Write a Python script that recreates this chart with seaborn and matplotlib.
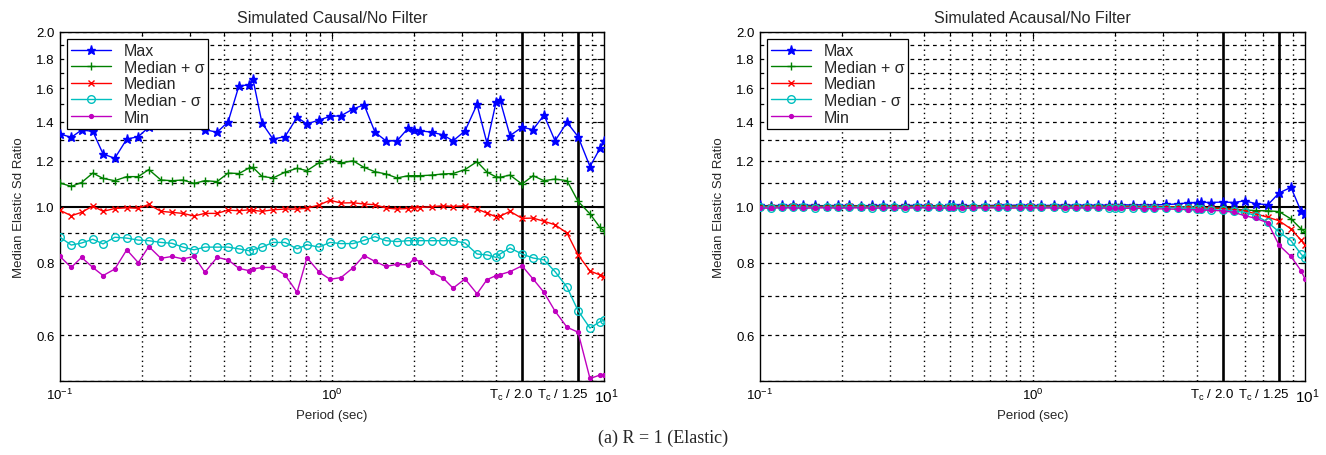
import numpy as np
import pandas as pd
import matplotlib
matplotlib.use("Agg")
import matplotlib.pyplot as plt
import matplotlib.ticker as mticker
from matplotlib.transforms import ScaledTranslation
import seaborn as sns

# Periods (sec) shared by all curves
periods = [0.100, 0.110, 0.120, 0.132, 0.144, 0.159, 0.176, 0.194, 0.212, 0.235,
           0.258, 0.283, 0.311, 0.341, 0.378, 0.415, 0.455, 0.495, 0.512, 0.553,
           0.607, 0.672, 0.744, 0.809, 0.896, 0.983, 1.079, 1.195, 1.312, 1.439,
           1.579, 1.734, 1.903, 2.002, 2.106, 2.332, 2.559, 2.786, 3.083, 3.413,
           3.715, 4.009, 4.147, 4.512, 4.995, 5.483, 6.017, 6.606, 7.311, 8.027,
           8.881, 9.667, 10.0]

# Simulated causal / no filter
causal_max = [1.334, 1.316, 1.355, 1.348, 1.232, 1.211, 1.307, 1.320, 1.370, 1.400,
              1.440, 1.450, 1.420, 1.357, 1.343, 1.400, 1.616, 1.620, 1.660, 1.393,
              1.307, 1.320, 1.425, 1.388, 1.410, 1.430, 1.434, 1.473, 1.498, 1.343,
              1.298, 1.298, 1.364, 1.357, 1.351, 1.343, 1.329, 1.298, 1.350, 1.500,
              1.285, 1.513, 1.526, 1.325, 1.370, 1.357, 1.438, 1.298, 1.397, 1.320,
              1.172, 1.260, 1.298]
causal_plus = [1.098, 1.083, 1.100, 1.142, 1.118, 1.108, 1.126, 1.126, 1.158, 1.111,
               1.108, 1.111, 1.096, 1.108, 1.104, 1.142, 1.140, 1.165, 1.168, 1.127,
               1.120, 1.146, 1.164, 1.153, 1.190, 1.208, 1.189, 1.199, 1.168, 1.148,
               1.138, 1.120, 1.130, 1.130, 1.130, 1.133, 1.138, 1.140, 1.158, 1.195,
               1.146, 1.125, 1.123, 1.133, 1.093, 1.130, 1.108, 1.115, 1.108, 1.021,
               0.971, 0.920, 0.908]
causal_med = [0.985, 0.964, 0.977, 1.002, 0.981, 0.992, 0.995, 0.993, 1.008, 0.981,
              0.977, 0.973, 0.963, 0.973, 0.973, 0.986, 0.983, 0.987, 0.985, 0.981,
              0.987, 0.990, 0.990, 0.993, 1.006, 1.025, 1.014, 1.015, 1.010, 1.007,
              0.994, 0.990, 0.992, 0.994, 0.996, 0.999, 1.003, 1.000, 1.003, 0.990,
              0.974, 0.960, 0.962, 0.981, 0.954, 0.955, 0.943, 0.930, 0.900, 0.825,
              0.774, 0.762, 0.757]
causal_minus = [0.885, 0.858, 0.865, 0.878, 0.862, 0.885, 0.882, 0.875, 0.873, 0.867,
                0.864, 0.851, 0.842, 0.851, 0.851, 0.851, 0.845, 0.839, 0.842, 0.851,
                0.867, 0.867, 0.845, 0.859, 0.851, 0.867, 0.863, 0.863, 0.874, 0.887,
                0.873, 0.870, 0.873, 0.873, 0.873, 0.873, 0.873, 0.873, 0.865, 0.828,
                0.825, 0.817, 0.828, 0.848, 0.828, 0.815, 0.809, 0.772, 0.726, 0.661,
                0.617, 0.633, 0.636]
causal_min = [0.820, 0.785, 0.817, 0.785, 0.760, 0.780, 0.842, 0.800, 0.853, 0.814,
              0.820, 0.812, 0.820, 0.770, 0.817, 0.809, 0.782, 0.775, 0.780, 0.785,
              0.785, 0.762, 0.711, 0.816, 0.771, 0.749, 0.754, 0.784, 0.823, 0.804,
              0.788, 0.795, 0.793, 0.812, 0.803, 0.770, 0.753, 0.723, 0.750, 0.707,
              0.748, 0.760, 0.763, 0.772, 0.790, 0.750, 0.711, 0.660, 0.619, 0.607,
              0.505, 0.512, 0.513]

# Simulated acausal / no filter
acausal_max = [1.004, 1.003, 1.005, 1.004, 1.006, 1.004, 1.003, 1.005, 1.004, 1.003,
               1.004, 1.005, 1.003, 1.004, 1.005, 1.004, 1.003, 1.004, 1.004, 1.005,
               1.003, 1.004, 1.005, 1.004, 1.006, 1.005, 1.004, 1.005, 1.006, 1.005,
               1.006, 1.005, 1.006, 1.006, 1.007, 1.006, 1.007, 1.006, 1.008, 1.010,
               1.015, 1.016, 1.017, 1.016, 1.018, 1.016, 1.023, 1.011, 1.007, 1.055,
               1.079, 0.982, 0.972]
acausal_plus = [1.002, 1.001, 1.002, 1.003, 1.002, 1.001, 1.002, 1.002, 1.003, 1.002,
                1.001, 1.002, 1.002, 1.001, 1.002, 1.003, 1.002, 1.002, 1.002, 1.001,
                1.002, 1.002, 1.003, 1.002, 1.002, 1.003, 1.002, 1.002, 1.001, 1.002,
                1.002, 1.002, 1.001, 1.001, 1.001, 1.001, 1.000, 1.000, 0.999, 0.999,
                0.998, 0.997, 0.996, 0.995, 0.993, 0.990, 0.986, 0.984, 0.983, 0.980,
                0.952, 0.915, 0.904]
acausal_med = [1.000, 0.999, 1.000, 1.001, 1.000, 0.999, 1.000, 1.000, 1.001, 1.000,
               0.999, 1.000, 1.000, 0.999, 1.000, 1.001, 1.000, 1.000, 1.000, 0.999,
               1.000, 1.000, 1.001, 1.000, 1.000, 1.001, 1.000, 1.000, 0.999, 1.000,
               1.000, 1.000, 0.999, 0.999, 0.999, 0.999, 0.999, 0.998, 0.998, 0.998,
               0.997, 0.996, 0.995, 0.994, 0.992, 0.988, 0.983, 0.971, 0.958, 0.945,
               0.915, 0.875, 0.858]
acausal_minus = [0.997, 0.996, 0.997, 0.998, 0.997, 0.996, 0.997, 0.997, 0.998, 0.997,
                 0.996, 0.997, 0.997, 0.996, 0.997, 0.998, 0.997, 0.997, 0.997, 0.996,
                 0.997, 0.997, 0.998, 0.997, 0.997, 0.998, 0.997, 0.997, 0.996, 0.997,
                 0.997, 0.997, 0.996, 0.996, 0.996, 0.996, 0.996, 0.996, 0.995, 0.994,
                 0.993, 0.991, 0.990, 0.988, 0.985, 0.982, 0.977, 0.964, 0.939, 0.904,
                 0.873, 0.828, 0.814]
acausal_min = [0.994, 0.993, 0.995, 0.994, 0.993, 0.994, 0.995, 0.993, 0.994, 0.995,
               0.993, 0.994, 0.994, 0.993, 0.995, 0.994, 0.993, 0.994, 0.994, 0.993,
               0.994, 0.995, 0.994, 0.993, 0.994, 0.995, 0.994, 0.994, 0.993, 0.994,
               0.994, 0.994, 0.993, 0.993, 0.993, 0.993, 0.992, 0.991, 0.990, 0.989,
               0.988, 0.987, 0.986, 0.985, 0.983, 0.977, 0.964, 0.954, 0.937, 0.858,
               0.820, 0.775, 0.750]

series_names = ["Max", "Median + σ", "Median", "Median - σ", "Min"]
panel_titles = ["Simulated Causal/No Filter", "Simulated Acausal/No Filter"]
tc = 10.0
tc_divisors = [2.0, 1.25]
ytick_vals = [0.6, 0.8, 1.0, 1.2, 1.4, 1.6, 1.8, 2.0]
ygrid_vals = [0.5, 0.6, 0.7, 0.8, 0.9, 1.1, 1.2, 1.3, 1.4, 1.5, 1.6, 1.7, 1.8, 1.9, 2.0]

colors = ["#0000ff", "#008000", "#ff0000", "#00bfbf", "#bf00bf"]
markers = ["*", "+", "x", "o", "."]
msizes = [6.5, 6, 4.5, 5.5, 5.5]

sns.set_style("white")
plt.rcParams['font.family'] = ['Liberation Sans', 'DejaVu Sans']
plt.rcParams['mathtext.fontset'] = 'custom'
plt.rcParams['mathtext.rm'] = 'Liberation Sans'
plt.rcParams['mathtext.it'] = 'Liberation Sans'

fig = plt.figure(figsize=(13.26, 4.56), dpi=100)
ax1 = fig.add_axes([60/1326, 1 - 382/456, 544/1326, 349/456])
ax2 = fig.add_axes([760/1326, 1 - 382/456, 545/1326, 349/456])

panels = [
    (ax1, [causal_max, causal_plus, causal_med, causal_minus, causal_min]),
    (ax2, [acausal_max, acausal_plus, acausal_med, acausal_minus, acausal_min]),
]

for k, (ax, data) in enumerate(panels):
    ax.set_xscale('log')
    ax.set_yscale('log')

    # grid lines
    for yv in ygrid_vals:
        ax.axhline(yv, color='black', lw=0.9, ls=(0, (3, 3)), zorder=1)
    minor_x = [0.2, 0.3, 0.4, 0.5, 0.6, 0.7, 0.8, 0.9, 1.0,
               2, 3, 4, 6, 7, 9]
    for xv in minor_x:
        ax.axvline(xv, color='black', lw=1.0, ls=(0, (1, 2.5)), zorder=1)

    for name, vals, c, m, ms in zip(series_names, data, colors, markers, msizes):
        df = pd.DataFrame({"period": periods, "ratio": vals})
        mfc = 'none' if m == 'o' else c
        sns.lineplot(data=df, x="period", y="ratio", ax=ax, color=c, marker=m,
                     markersize=ms, markerfacecolor=mfc, markeredgecolor=c,
                     markeredgewidth=1.0, lw=1.0, label=name, estimator=None,
                     sort=False, zorder=3)

    # reference lines
    ax.axhline(1.0, color='black', lw=1.5, zorder=2)
    for d in tc_divisors:
        ax.axvline(tc / d, color='black', lw=1.9, zorder=2)

    ax.set_xlim(0.1, 10)
    ax.set_ylim(0.5, 2.0)

    ax.yaxis.set_major_locator(mticker.FixedLocator(ytick_vals))
    ax.yaxis.set_major_formatter(mticker.FixedFormatter(["%.1f" % v for v in ytick_vals]))
    ax.yaxis.set_minor_locator(mticker.FixedLocator(ygrid_vals))
    ax.yaxis.set_minor_formatter(mticker.NullFormatter())

    xt = [0.1, 1.0, tc / tc_divisors[0], tc / tc_divisors[1], 10.0]
    xl = [r'$10^{-1}$', r'$10^{0}$', r'T$_{\rm c}$ / 2.0', r'T$_{\rm c}$ / 1.25', r'$10^{1}$']
    ax.xaxis.set_major_locator(mticker.FixedLocator(xt))
    ax.xaxis.set_major_formatter(mticker.FixedFormatter(xl))
    ax.xaxis.set_minor_locator(mticker.FixedLocator(minor_x))
    ax.xaxis.set_minor_formatter(mticker.NullFormatter())

    ax.tick_params(axis='both', which='both', direction='in', top=True, right=True,
                   labelsize=9.5, length=3, width=0.8, colors='black', pad=4)
    ax.tick_params(axis='both', which='major', length=5)
    shifts = {2: -11, 3: -15}
    for i, lab in enumerate(ax.get_xticklabels()):
        if i in shifts:
            lab.set_transform(lab.get_transform() +
                              ScaledTranslation(shifts[i] / 100, 0, fig.dpi_scale_trans))
        if i == 4:
            lab.set_fontsize(11)
            lab.set_transform(lab.get_transform() +
                              ScaledTranslation(2 / 100, 0, fig.dpi_scale_trans))

    for sp in ax.spines.values():
        sp.set_color('black')
        sp.set_linewidth(1.0)
        sp.set_visible(True)

    ax.set_title(panel_titles[k], fontsize=11.5, pad=7)
    ax.set_xlabel("Period (sec)", fontsize=9.5, labelpad=3)
    ax.set_ylabel("Median Elastic Sd Ratio", fontsize=9.5, labelpad=8)

    leg = ax.legend(loc='upper left', frameon=True, fancybox=False, fontsize=11.5,
                    edgecolor='black', framealpha=1, borderaxespad=0.45,
                    handlelength=2.5, labelspacing=0.1, borderpad=0.25,
                    handletextpad=0.8)
    leg.get_frame().set_linewidth(0.9)
    leg.set_zorder(5)

fig.text(0.5, 1 - 438/456, "(a) R = 1 (Elastic)", ha='center', va='center',
         fontsize=13, family=['Liberation Serif', 'DejaVu Serif'])

fig.savefig("out.png", dpi=100)
